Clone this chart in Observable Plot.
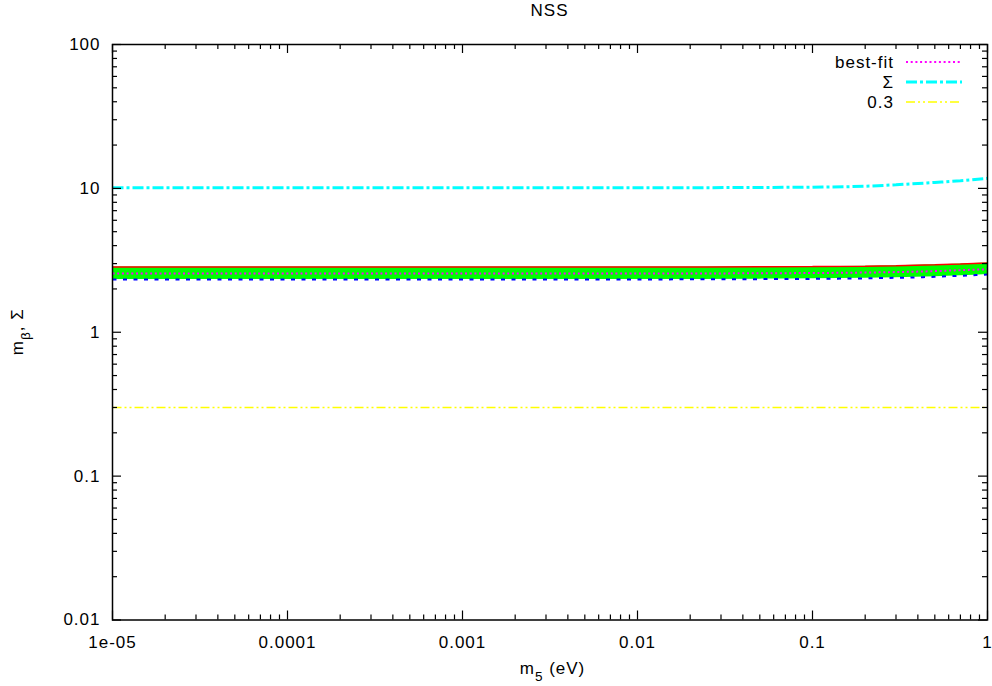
<!DOCTYPE html>
<html>
<head>
<meta charset="utf-8">
<script src="https://cdn.jsdelivr.net/npm/d3@7"></script>
<script src="https://cdn.jsdelivr.net/npm/@observablehq/plot@0.6"></script>
<style>
  html, body { margin: 0; padding: 0; background: #fff; }
  #chart { width: 992px; height: 686px; }
</style>
</head>
<body>
<div id="chart"></div>
<script>
// ---- data ----
const m5 = [1e-5, 1e-4, 1e-3, 1e-2, 0.05, 0.1, 0.2, 0.3, 0.5, 0.7, 1];
const upperBand = [2.84, 2.84, 2.84, 2.84, 2.85, 2.86, 2.88, 2.90, 2.94, 2.98, 3.03];
const bestFit   = [2.56, 2.56, 2.56, 2.56, 2.57, 2.58, 2.60, 2.62, 2.66, 2.70, 2.74];
const lowerBand = [2.33, 2.33, 2.33, 2.33, 2.34, 2.35, 2.37, 2.39, 2.43, 2.47, 2.52];
const sigma     = [10.1, 10.1, 10.1, 10.1, 10.15, 10.2, 10.35, 10.6, 11.0, 11.3, 11.75];
const limitValue = 0.3;
const limitX = [1e-5, 1];

const xTicks = [1e-5, 1e-4, 1e-3, 1e-2, 1e-1, 1];
const xTickLabels = ["1e-05", "0.0001", "0.001", "0.01", "0.1", "1"];
const yTicks = [0.01, 0.1, 1, 10, 100];
const yTickLabels = ["0.01", "0.1", "1", "10", "100"];

const legendLabels = ["best-fit", "\u03A3", "0.3"];
const titleText = "NSS";

// ---- derived tables ----
const rows = m5.map((x, i) => ({x, lo: lowerBand[i], hi: upperBand[i], bf: bestFit[i], s: sigma[i]}));
const limitRows = limitX.map(x => ({x, y: limitValue}));
const xMinor = [];
for (let i = 0; i < xTicks.length - 1; i++) for (let k = 2; k <= 9; k++) xMinor.push(xTicks[i] * k);
const yMinor = [];
for (let i = 0; i < yTicks.length - 1; i++) for (let k = 2; k <= 9; k++) yMinor.push(yTicks[i] * k);

const W = 992, H = 686;
const mL = 112, mR = 5, mT = 44, mB = 66.5;
const PW = W - mL - mR, PH = H - mT - mB;
const majorLen = 9, minorLen = 5;
const font = "'Liberation Sans', Arial, Helvetica, sans-serif";
const fs = 17;

const tickStyle = {stroke: "black", strokeWidth: 1.2};
const lineOpts = {strokeLinecap: "butt", strokeLinejoin: "miter", curve: "monotone-x"};

const chart = Plot.plot({
  width: W, height: H,
  marginLeft: mL, marginRight: mR, marginTop: mT, marginBottom: mB,
  style: {fontFamily: font, fontSize: fs + "px", color: "black", background: "white", letterSpacing: "1px"},
  x: {type: "log", domain: [1e-5, 1]},
  y: {type: "log", domain: [0.01, 100]},
  marks: [
    Plot.areaY(rows, {x: "x", y1: "lo", y2: "hi", fill: "#00ff00", curve: "monotone-x"}),
    Plot.line(rows, {x: "x", y: "hi", stroke: "#ff0000", strokeWidth: 1.5, ...lineOpts}),
    Plot.line(rows, {x: "x", y: "lo", stroke: "#0000ff", strokeWidth: 2, strokeDasharray: "4,6.5", ...lineOpts}),
    Plot.line(rows, {x: "x", y: "bf", stroke: "#ff00ff", strokeWidth: 2, strokeDasharray: "2,2.7", ...lineOpts}),
    Plot.line(rows, {x: "x", y: "s", stroke: "#00ffff", strokeWidth: 3, strokeDasharray: "11,3,3,3", ...lineOpts}),
    Plot.line(limitRows, {x: "x", y: "y", stroke: "#ffff00", strokeWidth: 1.5, strokeDasharray: "9,3,2,3,2,3", strokeLinecap: "butt"}),
    // ticks (inward, mirrored)
    Plot.tickX(xTicks, {x: d => d, insetTop: PH - majorLen, ...tickStyle}),
    Plot.tickX(xTicks, {x: d => d, insetBottom: PH - majorLen, ...tickStyle}),
    Plot.tickX(xMinor, {x: d => d, insetTop: PH - minorLen, ...tickStyle}),
    Plot.tickX(xMinor, {x: d => d, insetBottom: PH - minorLen, ...tickStyle}),
    Plot.tickY(yTicks, {y: d => d, insetRight: PW - majorLen, ...tickStyle}),
    Plot.tickY(yTicks, {y: d => d, insetLeft: PW - majorLen, ...tickStyle}),
    Plot.tickY(yMinor, {y: d => d, insetRight: PW - minorLen, ...tickStyle}),
    Plot.tickY(yMinor, {y: d => d, insetLeft: PW - minorLen, ...tickStyle}),
    Plot.axisX(xTicks, {tickSize: 0, tickPadding: 16, tickFormat: d => xTickLabels[xTicks.indexOf(d)], label: null, fontSize: fs}),
    Plot.axisY(yTicks, {tickSize: 0, tickPadding: 12, tickFormat: d => yTickLabels[yTicks.indexOf(d)], label: null, fontSize: fs}),
    Plot.frame({stroke: "black", strokeWidth: 1.5})
  ]
});

document.getElementById("chart").appendChild(chart);

// ---- title, axis labels, legend ----
const svg = d3.select(chart);
const g = svg.append("g").attr("font-family", font).attr("font-size", fs).attr("fill", "black");

g.append("text").attr("x", mL + PW / 2).attr("y", 10).attr("dy", "0.35em")
  .attr("text-anchor", "middle").text(titleText);

const xl = g.append("text").attr("x", mL + PW / 2 + 3).attr("y", 668).attr("dy", "0.35em")
  .attr("text-anchor", "middle");
xl.append("tspan").text("m");
xl.append("tspan").attr("font-size", fs * 0.8).attr("dy", "0.55em").text("5");
xl.append("tspan").attr("dy", "-0.45em").text(" (eV)");

const yl = g.append("text").attr("transform", `translate(17,${mT + PH / 2}) rotate(-90)`)
  .attr("text-anchor", "middle").attr("dy", "0.35em");
yl.append("tspan").text("m");
yl.append("tspan").attr("font-size", fs * 0.8).attr("dy", "0.55em").text("\u03B2");
yl.append("tspan").attr("dy", "-0.45em").text(", \u03A3");

const legendStyles = [
  {stroke: "#ff00ff", width: 2, dash: "2,2.7"},
  {stroke: "#00ffff", width: 3, dash: "11,3,3,3"},
  {stroke: "#ffff00", width: 1.5, dash: "9,3,2,3,2,3"}
];
legendLabels.forEach((lab, i) => {
  const y = 62 + i * 20;
  g.append("text").attr("x", 894).attr("y", y).attr("dy", "0.35em").attr("text-anchor", "end").text(lab);
  g.append("line").attr("x1", 906).attr("x2", 962).attr("y1", y).attr("y2", y)
    .attr("stroke", legendStyles[i].stroke).attr("stroke-width", legendStyles[i].width)
    .attr("stroke-dasharray", legendStyles[i].dash).attr("stroke-linecap", "butt");
});
</script>
</body>
</html>
